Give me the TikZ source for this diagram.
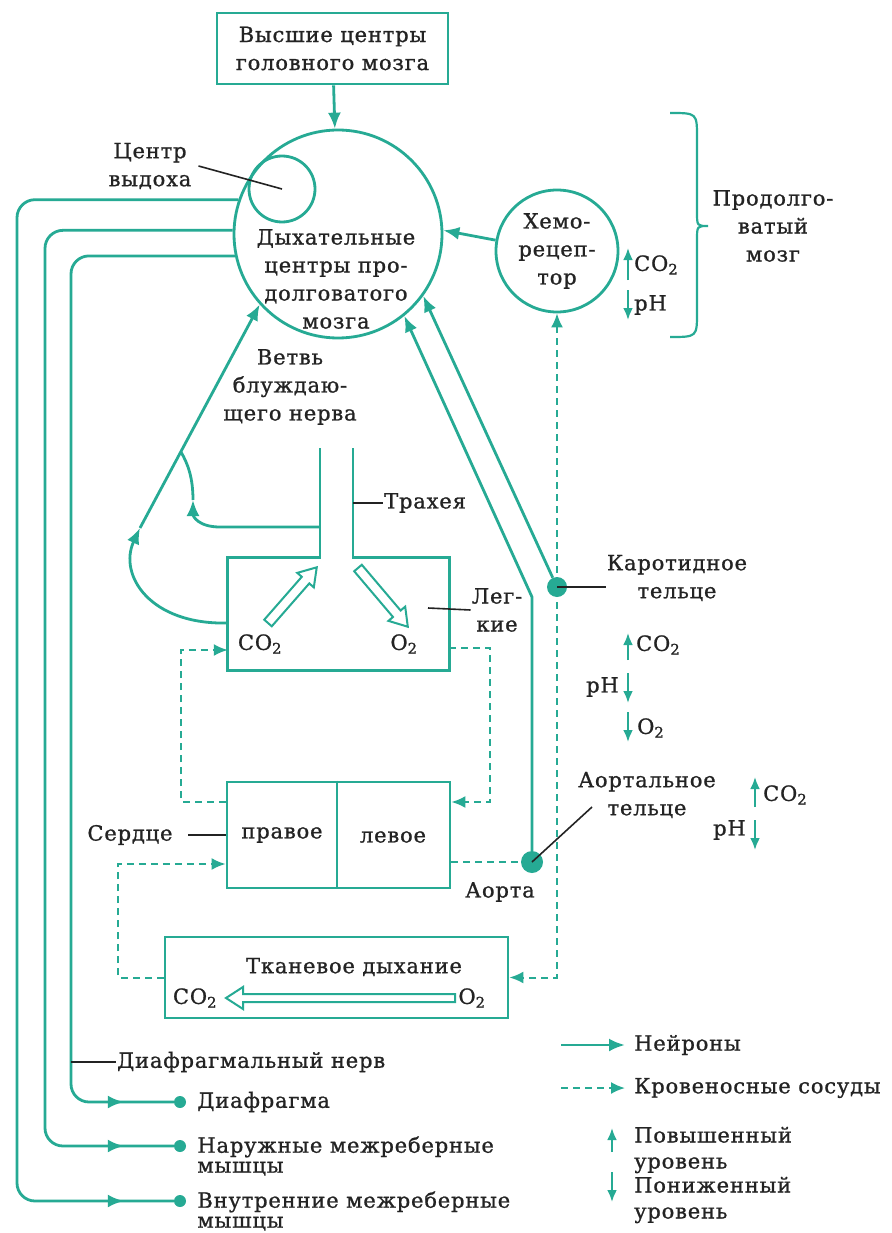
\documentclass[tikz,border=0pt]{standalone}
\usepackage{fontspec}
\setmainfont{DejaVu Serif}[LetterSpace=4.0, FakeBold=1]
\usetikzlibrary{positioning, arrows.meta, decorations.markings}

\definecolor{nervecol}{RGB}{38,170,148}
\definecolor{inkcol}{RGB}{35,35,35}

\tikzset{
  nerve/.style={draw=nervecol, line width=2.8pt},
  nervearrow/.style={nerve, -{Latex[length=16pt,width=13pt]}},
  blood/.style={draw=nervecol, line width=2pt, dash pattern=on 7pt off 5pt},
  bloodarrow/.style={blood, -{Latex[length=14pt,width=12pt]}},
  organ/.style={draw=nervecol, line width=2.8pt, inner sep=0pt},
  lbl/.style={text=inkcol, font=\fontsize{21}{28}\selectfont, align=center, inner sep=1pt},
  tight/.style={font=\fontsize{21}{20}\selectfont},
  legtext/.style={font=\fontsize{21}{26}\selectfont},
  leader/.style={draw=inkcol, line width=1.6pt},
  level/.style={draw=nervecol, line width=2.4pt, -{Latex[length=12pt,width=10pt]}},
  dot/.style={circle, fill=nervecol, inner sep=0pt, minimum size=#1},
  hollow/.style={draw=nervecol, line width=2pt, fill=white, line join=miter},
  midarrow/.style={postaction={decorate}, decoration={markings,
      mark=at position #1 with {\arrow{Latex[length=16pt,width=13pt]}}}},
}

% hollow gas arrow: start, angle, length, half shaft width
\newcommand{\gasarrow}[4]{%
  \draw[hollow, shift={#1}, rotate=#2] (0,-#4) -- ({#3-17},-#4) -- ({#3-17},-11)
    -- (#3,0) -- ({#3-17},11) -- ({#3-17},#4) -- (0,#4) -- cycle;}

\begin{document}
\begin{tikzpicture}[x=1pt, y=-1pt]
\path[use as bounding box, fill=white] (0,0) rectangle (891,1233);

% brain centres
\node[organ, lbl, minimum width=231pt, minimum height=71pt] (higher) at (332.5,48.5) {Высшие центры\\головного мозга};
\node[organ, circle, minimum size=208pt] (resp) at (338,234) {};
\node[organ, circle, minimum size=66pt] (expir) at (282,189) {};
\node[lbl] (resptxt) at (336,279) {Дыхательные\\центры про-\\долговатого\\мозга};
\node[lbl] (expirlbl) at (150,166) {Центр\\выдоха};
\draw[leader] ([xshift=6pt]expirlbl.east) -- (expir.center);
\draw[nervearrow] (higher) -- (resp);

% chemoreceptor and medulla brace
\node[organ, lbl, circle, minimum size=122pt] (chemo) at (557,251) {Хемо-\\рецеп-\\тор};
\draw[nervearrow] (chemo.170) -- (resp.2);
\draw[nerve, line width=2.2pt] (670,113) .. controls (697,113) .. (697,138) -- (697,212)
  .. controls (697,226) .. (708,226) .. controls (697,226) .. (697,240) -- (697,312)
  .. controls (697,337) .. (670,337);
\node[lbl] (medulla) at (773,226) {Продолго-\\ватый\\мозг};

% level arrows (up / down)
\foreach \xa/\ya/\yb in {628/280/248, 628/290/320, 628/660/633, 628/673/703, 628/712/742,
                         755/807/777, 755/820/850, 612/1152/1128, 612/1172/1202}
  \draw[level] (\xa,\ya) -- (\xa,\yb);
\node[lbl, anchor=west] at (633,265) {CO\textsubscript{2}};
\node[lbl, anchor=west] at (633,305) {pH};
\node[lbl, anchor=west] at (635,645) {CO\textsubscript{2}};
\node[lbl, anchor=east] at (620,687) {pH};
\node[lbl, anchor=west] at (636,728) {O\textsubscript{2}};
\node[lbl, anchor=west] at (762,795) {CO\textsubscript{2}};
\node[lbl, anchor=east] at (747,830) {pH};

% lungs and trachea
\node[minimum width=221pt, minimum height=112pt] (lungs) at (338.5,614) {};
\draw[organ] (320,448) -- (320,0 |- lungs.north) -| (lungs.south west) -| (lungs.north east)
  -- (353,0 |- lungs.north) -- (353,448);
\node[lbl, anchor=west] (trachlbl) at (383,503) {Трахея};
\draw[leader] (353,503) -- (trachlbl.west);
\node[lbl] (lunglbl) at (497,610) {Лег-\\кие};
\draw[leader] (428,608) -- (lunglbl.west);
\gasarrow{(268,623)}{48.8}{74}{5}
\gasarrow{(358,568)}{-49.7}{77}{5}
\node[lbl] at (260,644) {CO\textsubscript{2}};
\node[lbl] at (404,644) {O\textsubscript{2}};

% vagus nerve branch
\node[lbl] (vaguslbl) at (290,387) {Ветвь\\блуждаю-\\щего нерва};
\coordinate (vagA) at (140,528);
\coordinate (vagB) at (193,500);
\coordinate (vagM) at (181,452);
\draw[nervearrow] ([yshift=-9pt]lungs.west) .. controls (150,625) and (118,575) .. (vagA);
\draw[nervearrow] (vagA) -- (resp.222);
\draw[nervearrow] (320,527) -- (220,527) .. controls (198,527) and (193,516) .. (vagB);
\draw[nerve] (vagB) .. controls (193,478) and (188,464) .. (vagM);

% heart and tissues
\node[organ, minimum width=223pt, minimum height=106pt] (heart) at (338.5,835) {};
\draw[nerve] (337,0 |- heart.north) -- (337,0 |- heart.south);
\node[lbl] at (282,835) {правое};
\node[lbl] at (393,837) {левое};
\node[lbl] (heartlbl) at (130,835) {Сердце};
\draw[leader] (188,835) -- (heart.west);
\node[organ, minimum width=343pt, minimum height=81pt] (tissue) at (336.5,977.5) {};
\node[lbl] at (354,967) {Тканевое дыхание};
\gasarrow{(455,998)}{180}{229}{4}
\node[lbl] at (195,998) {CO\textsubscript{2}};
\node[lbl] at (472,998) {O\textsubscript{2}};

% receptor bodies
\node[dot=20pt] (carotid) at (557,587) {};
\node[dot=22pt] (aorta) at (532,862) {};
\node[lbl] (carotidlbl) at (677,578) {Каротидное\\тельце};
\node[lbl] (aortallbl) at (647,795) {Аортальное\\тельце};
\node[lbl] (aortalbl) at (500,892) {Аорта};
\draw[nervearrow] (carotid) -- (resp.-36);
\draw[nervearrow] (aorta) -- (532,597) -- (resp.-51);

% blood vessels
\draw[bloodarrow] ([yshift=-21pt]heart.north west) -| (181,650) -- (lungs.west |- 181,650);
\draw[bloodarrow] ([yshift=-34pt]lungs.east) -| (490,802) -- (heart.east |- 490,802);
\draw[blood] (heart.east |- aorta) -- (aorta);
\draw[bloodarrow] (tissue.west) -| (118,864) -- (heart.west |- 118,864);
\draw[blood, {Latex[length=14pt,width=12pt]}-{Latex[length=14pt,width=12pt]}] (chemo.south) |- (tissue.east);
\draw[leader] (carotid.center) -- (carotidlbl.west |- carotid);
\draw[leader] (592,807) -- (aorta.center);

% nerves to the breathing muscles
\node[dot=12pt] (musA) at (180,1102) {};
\node[dot=12pt] (musB) at (180,1146) {};
\node[dot=12pt] (musC) at (180,1201) {};
\foreach \ang/\xv/\yv/\tgt in {161/17/1201/musC, 178/45/1146/musB, 192/71/1102/musA}
  \draw[nerve, rounded corners=18pt, midarrow=-50pt] (resp.\ang) -| (\xv,\yv) -- (\tgt);
\node[lbl, right=10pt of musA] {Диафрагма};
\node[lbl, tight, align=left, right=10pt of musB, yshift=-10pt] {Наружные межреберные\\мышцы};
\node[lbl, tight, align=left, right=10pt of musC, yshift=-10pt] {Внутренние межреберные\\мышцы};
\node[lbl, anchor=west] (phreniclbl) at (116,1062) {Диафрагмальный нерв};
\draw[leader] (71,1062) -- (phreniclbl.west);

% legend
\node[lbl, anchor=west] (legneur) at (633,1045) {Нейроны};
\draw[nervearrow] ([xshift=-72pt]legneur.west) -- ([xshift=-8pt]legneur.west);
\node[lbl, anchor=west] (legblood) at (633,1088) {Кровеносные сосуды};
\draw[bloodarrow] ([xshift=-72pt]legblood.west) -- ([xshift=-8pt]legblood.west);
\node[lbl, legtext, anchor=west, align=left] (legup) at (633,1150) {Повышенный\\уровень};
\node[lbl, legtext, anchor=west, align=left] (legdown) at (633,1200) {Пониженный\\уровень};

\end{tikzpicture}
\end{document}
